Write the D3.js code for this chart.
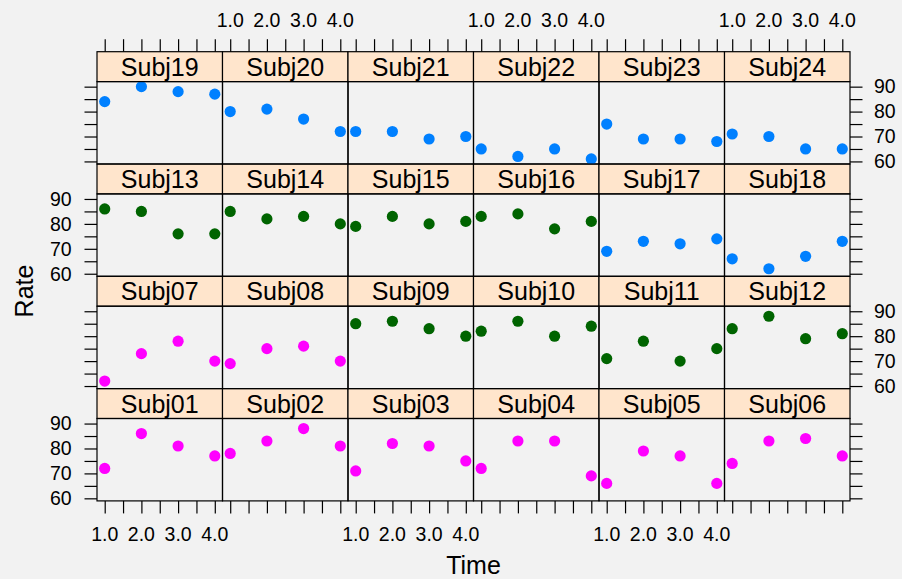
<!DOCTYPE html>
<html>
<head>
<meta charset="utf-8">
<script src="https://cdn.jsdelivr.net/npm/d3@7"></script>
<style>
  body { margin: 0; background: #f2f2f2; }
  svg text { font-family: "Liberation Sans", Arial, sans-serif; fill: #000; }
</style>
</head>
<body>
<div id="container"></div>
<script>
// data
var subjects = ["Subj01","Subj02","Subj03","Subj04","Subj05","Subj06",
                "Subj07","Subj08","Subj09","Subj10","Subj11","Subj12",
                "Subj13","Subj14","Subj15","Subj16","Subj17","Subj18",
                "Subj19","Subj20","Subj21","Subj22","Subj23","Subj24"];
var times = [1, 2, 3, 4];
var rateValues = [
  [72, 86, 81, 77], [78, 83, 88, 81], [71, 82, 81, 75], [72, 83, 83, 69],
  [66, 79, 77, 66], [74, 83, 84, 77], [62, 73, 78, 70], [69, 75, 76, 70],
  [85, 86, 83, 80], [82, 86, 80, 84], [71, 78, 70, 75], [83, 88, 79, 81],
  [86, 85, 76, 76], [85, 82, 83, 80], [79, 83, 80, 81], [83, 84, 78, 81],
  [69, 73, 72, 74], [66, 62, 67, 73], [84, 90, 88, 87], [80, 81, 77, 72],
  [72, 72, 69, 70], [65, 62, 65, 61], [75, 69, 69, 68], [71, 70, 65, 65]
];
// group of each subject (1 = blue, 2 = magenta, 3 = darkgreen)
var groups = [2,2,2,2,2,2, 2,2,3,3,3,3, 3,3,3,3,1,1, 1,1,1,1,1,1];
var groupColors = ["#0080ff", "#ff00ff", "#006400"];
var xTicks = [1, 1.5, 2, 2.5, 3, 3.5, 4];
var xLabels = [1, 2, 3, 4];
var yTicks = [60, 65, 70, 75, 80, 85, 90];
var yLabels = [60, 70, 80, 90];

var width = 902, height = 579;
var svg = d3.select("div#container")
  .append("svg")
  .attr("width", width)
  .attr("height", height);

svg.append("rect").attr("width", width).attr("height", height).attr("fill", "#f2f2f2");

// layout
var nCol = 6, nRow = 4;
var padL = 97, padR = 850, padT = 51.7;
var panelW = (padR - padL) / nCol;
var stripH = 29.9, panelH = 82.4, rowH = stripH + panelH;
var tck = 12.5;

// lattice style 7% padding
var allRates = d3.merge(rateValues);
var yMin = d3.min(allRates), yMax = d3.max(allRates);
var yPad = (yMax - yMin) * 0.07;
var xPad = (d3.max(times) - d3.min(times)) * 0.07;

var x = d3.scaleLinear()
  .domain([d3.min(times) - xPad, d3.max(times) + xPad])
  .range([0, panelW]);
var y = d3.scaleLinear()
  .domain([yMin - yPad, yMax + yPad])
  .range([panelH, 0]);

var defs = svg.append("defs");
defs.append("clipPath").attr("id", "pclip")
  .append("rect").attr("width", panelW).attr("height", panelH);

var fmt = d3.format(".1f");

function styleAxis(a) {
  a.select(".domain").remove();
  a.selectAll(".tick line").attr("stroke", "#000").attr("stroke-width", 1.2);
}

subjects.forEach(function(name, p) {
  var col = p % nCol;
  var rowTop = nRow - 1 - Math.floor(p / nCol);
  var gx = padL + col * panelW;
  var gy = padT + rowTop * rowH;
  var g = svg.append("g").attr("transform", "translate(" + gx + "," + gy + ")");

  // strip
  g.append("rect")
    .attr("width", panelW).attr("height", stripH)
    .attr("fill", "#ffe5cc").attr("stroke", "#000").attr("stroke-width", 1.2);
  g.append("text")
    .attr("x", panelW / 2).attr("y", stripH / 2)
    .attr("dy", "0.36em")
    .attr("text-anchor", "middle")
    .style("font-size", "25px")
    .text(name);

  var panel = g.append("g").attr("transform", "translate(0," + stripH + ")");
  panel.append("g").attr("clip-path", "url(#pclip)")
    .selectAll("circle")
    .data(times.map(function(t, i) { return {t: t, r: rateValues[p][i]}; }))
    .enter().append("circle")
    .attr("cx", function(d) { return x(d.t); })
    .attr("cy", function(d) { return y(d.r); })
    .attr("r", 5.6)
    .attr("fill", groupColors[groups[p] - 1]);

  panel.append("rect")
    .attr("width", panelW).attr("height", panelH)
    .attr("fill", "none").attr("stroke", "#000").attr("stroke-width", 1.2);

  // x axis ticks: top on the top row, bottom on the bottom row
  if (rowTop === 0) {
    var ax = g.append("g")
      .call(d3.axisTop(x).tickValues(xTicks).tickSize(tck).tickFormat(""));
    styleAxis(ax);
    if (col % 2 === 1) {
      g.selectAll(".xl").data(xLabels).enter().append("text")
        .attr("x", function(d) { return x(d); })
        .attr("y", -tck - 12.3)
        .attr("text-anchor", "middle")
        .style("font-size", "19.5px")
        .text(function(d) { return fmt(d); });
    }
  }
  if (rowTop === nRow - 1) {
    var bx = panel.append("g").attr("transform", "translate(0," + panelH + ")")
      .call(d3.axisBottom(x).tickValues(xTicks).tickSize(tck).tickFormat(""));
    styleAxis(bx);
    if (col % 2 === 0) {
      panel.selectAll(".xl").data(xLabels).enter().append("text")
        .attr("x", function(d) { return x(d); })
        .attr("y", panelH + 40.3)
        .attr("text-anchor", "middle")
        .style("font-size", "19.5px")
        .text(function(d) { return fmt(d); });
    }
  }
  // y axis ticks: left on first column, right on last column
  if (col === 0) {
    var ly = panel.append("g")
      .call(d3.axisLeft(y).tickValues(yTicks).tickSize(tck).tickFormat(""));
    styleAxis(ly);
    if (rowTop % 2 === 1) {
      panel.selectAll(".yl").data(yLabels).enter().append("text")
        .attr("x", -tck - 12.8)
        .attr("y", function(d) { return y(d); })
        .attr("dy", "0.35em")
        .attr("text-anchor", "end")
        .style("font-size", "19.5px")
        .text(function(d) { return d; });
    }
  }
  if (col === nCol - 1) {
    var ry = panel.append("g").attr("transform", "translate(" + panelW + ",0)")
      .call(d3.axisRight(y).tickValues(yTicks).tickSize(tck).tickFormat(""));
    styleAxis(ry);
    if (rowTop % 2 === 0) {
      panel.selectAll(".yl").data(yLabels).enter().append("text")
        .attr("x", panelW + tck + 11.5)
        .attr("y", function(d) { return y(d); })
        .attr("dy", "0.35em")
        .attr("text-anchor", "start")
        .style("font-size", "19.5px")
        .text(function(d) { return d; });
    }
  }
});

// axis titles
svg.append("text")
  .attr("x", (padL + padR) / 2).attr("y", 574)
  .attr("text-anchor", "middle")
  .style("font-size", "25px")
  .text("Time");

svg.append("text")
  .attr("transform", "translate(33,291) rotate(-90)")
  .attr("text-anchor", "middle")
  .style("font-size", "25px")
  .text("Rate");
</script>
</body>
</html>
